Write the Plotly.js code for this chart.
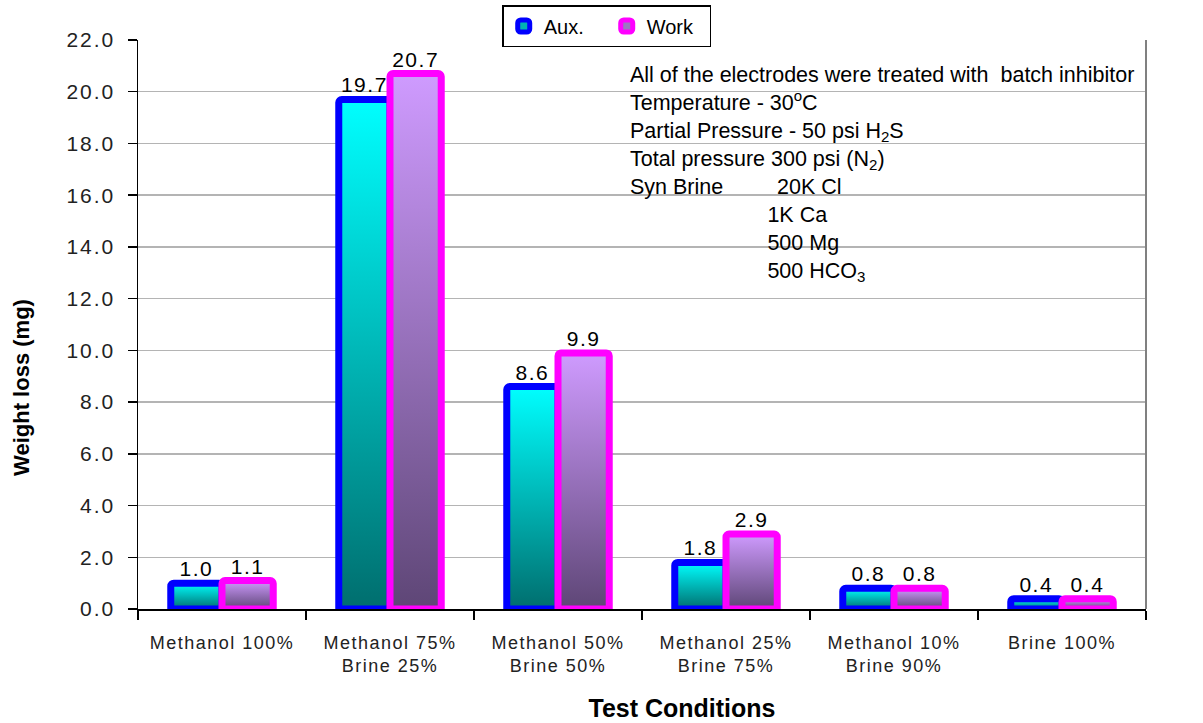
<!DOCTYPE html>
<html>
<head>
<meta charset="utf-8">
<script src="https://cdn.plot.ly/plotly-3.0.1.min.js"></script>
<style>
html,body{margin:0;padding:0;background:#fff;}
#chart{width:1203px;height:723px;}
#chart .ytick text{letter-spacing:2px;}
#chart .xtick text{letter-spacing:1.5px;}
#chart .bartext{letter-spacing:1.5px;}
</style>
</head>
<body>
<div id="chart"></div>
<script>
var categories = ["Methanol 100%", "Methanol 75%<br>Brine 25%", "Methanol 50%<br>Brine 50%", "Methanol 25%<br>Brine 75%", "Methanol 10%<br>Brine 90%", "Brine 100%"];
var auxValues = [1.0, 19.7, 8.6, 1.8, 0.8, 0.4];
var workValues = [1.1, 20.7, 9.9, 2.9, 0.8, 0.4];
var seriesNames = ["Aux.", "Work"];
var yTickValues = [0, 2, 4, 6, 8, 10, 12, 14, 16, 18, 20, 22];

var FONT = "Arial, 'Liberation Sans', sans-serif";

var traces = [
  {
    type: "bar", name: seriesNames[0], x: categories, y: auxValues,
    marker: {color: "#00b4b4", line: {color: "#0000ff", width: 7}, cornerradius: 3},
    texttemplate: "%{y:.1f}", textposition: "outside", constraintext: "none", cliponaxis: false,
    textfont: {family: FONT, size: 21, color: "#000"}, hoverinfo: "none"
  },
  {
    type: "bar", name: seriesNames[1], x: categories, y: workValues,
    marker: {color: "#9a78c0", line: {color: "#ff00ff", width: 7}, cornerradius: 3},
    texttemplate: "%{y:.1f}", textposition: "outside", constraintext: "none", cliponaxis: false,
    textfont: {family: FONT, size: 21, color: "#000"}, hoverinfo: "none"
  }
];

function pad(n) { var s = ""; for (var i = 0; i < n; i++) s += "&nbsp;"; return s; }

var noteText = "All of the electrodes were treated with &nbsp;batch inhibitor<br>" +
  "Temperature - 30<sup>o</sup>C<br>" +
  "Partial Pressure - 50 psi H<sub>2</sub>S<br>" +
  "Total pressure 300 psi (N<sub>2</sub>)<br>" +
  "Syn Brine" + pad(9) + "20K Cl<br>" +
  pad(23) + "1K Ca<br>" +
  pad(23) + "500 Mg<br>" +
  pad(23) + "500 HCO<sub>3</sub>";

var layout = {
  width: 1203, height: 723,
  margin: {l: 138, r: 57, t: 40, b: 114, autoexpand: false},
  paper_bgcolor: "#ffffff", plot_bgcolor: "#ffffff",
  font: {family: FONT, color: "#000"},
  barmode: "group", bargap: 0.39, bargroupgap: 0,
  showlegend: true,
  legend: {
    orientation: "h", x: 0.465, xanchor: "center", y: 1.0615, yanchor: "top",
    bordercolor: "#000", borderwidth: 1.5, bgcolor: "#fff",
    font: {family: FONT, size: 20, color: "#000"},
    itemwidth: 30, tracegroupgap: 0, entrywidth: 58, entrywidthmode: "pixels"
  },
  xaxis: {
    type: "category",
    showline: true, linecolor: "#000", linewidth: 2,
    ticks: "outside", tickson: "boundaries", ticklen: 9, tickcolor: "#000", tickwidth: 1.5,
    tickfont: {family: FONT, size: 18, color: "#222"},
    ticklabelstandoff: 16,
    showgrid: false,
    title: {text: "<b>Test Conditions</b>", font: {family: FONT, size: 25, color: "#000"}, standoff: 24},
    automargin: false, fixedrange: true
  },
  yaxis: {
    range: [0, 22], tickvals: yTickValues, tickformat: ".1f",
    showline: true, linecolor: "#000", linewidth: 1.5,
    ticks: "outside", ticklen: 9, tickcolor: "#000", tickwidth: 1.5,
    tickfont: {family: FONT, size: 21, color: "#222"},
    ticklabelstandoff: 8,
    showgrid: true, gridcolor: "#b4b4b4", gridwidth: 1.5,
    zeroline: false,
    title: {text: "<b>Weight loss (mg)</b>", font: {family: FONT, size: 22, color: "#000"}, standoff: 38},
    automargin: false, fixedrange: true
  },
  shapes: [
    {type: "line", xref: "paper", yref: "paper", x0: 1, x1: 1, y0: 0, y1: 1, line: {color: "#808080", width: 2}}
  ],
  annotations: [
    {
      xref: "paper", yref: "paper", x: 0.486, y: 0.963, xanchor: "left", yanchor: "top",
      align: "left", showarrow: false, text: noteText,
      font: {family: FONT, size: 21.5, color: "#000"}
    }
  ]
};

Plotly.newPlot("chart", traces, layout, {displayModeBar: false, staticPlot: true}).then(function (gd) {
  var svgNS = "http://www.w3.org/2000/svg";
  var svg = gd.querySelector(".main-svg");
  var defs = svg.querySelector("defs") || svg.insertBefore(document.createElementNS(svgNS, "defs"), svg.firstChild);
  function grad(id, top, bottom) {
    var g = document.createElementNS(svgNS, "linearGradient");
    g.setAttribute("id", id);
    g.setAttribute("x1", "0"); g.setAttribute("y1", "0");
    g.setAttribute("x2", "0"); g.setAttribute("y2", "1");
    var s1 = document.createElementNS(svgNS, "stop");
    s1.setAttribute("offset", "0"); s1.setAttribute("stop-color", top);
    var s2 = document.createElementNS(svgNS, "stop");
    s2.setAttribute("offset", "1"); s2.setAttribute("stop-color", bottom);
    g.appendChild(s1); g.appendChild(s2);
    defs.appendChild(g);
  }
  grad("gradAux", "#00ffff", "#006e6e");
  grad("gradWork", "#cf9bff", "#5e4676");
  var ids = ["gradAux", "gradWork"];
  var barTraces = gd.querySelectorAll(".barlayer .trace");
  barTraces.forEach(function (t, i) {
    t.querySelectorAll(".point path").forEach(function (p) {
      p.style.fill = "url(#" + ids[i] + ")";
    });
  });
  // the reference places its axis titles off-centre
  var xt = gd.querySelector(".g-xtitle");
  if (xt) xt.setAttribute("transform", "translate(40,0)");
  var yt = gd.querySelector(".g-ytitle");
  if (yt) yt.setAttribute("transform", "translate(0,63)");
});
</script>
</body>
</html>
